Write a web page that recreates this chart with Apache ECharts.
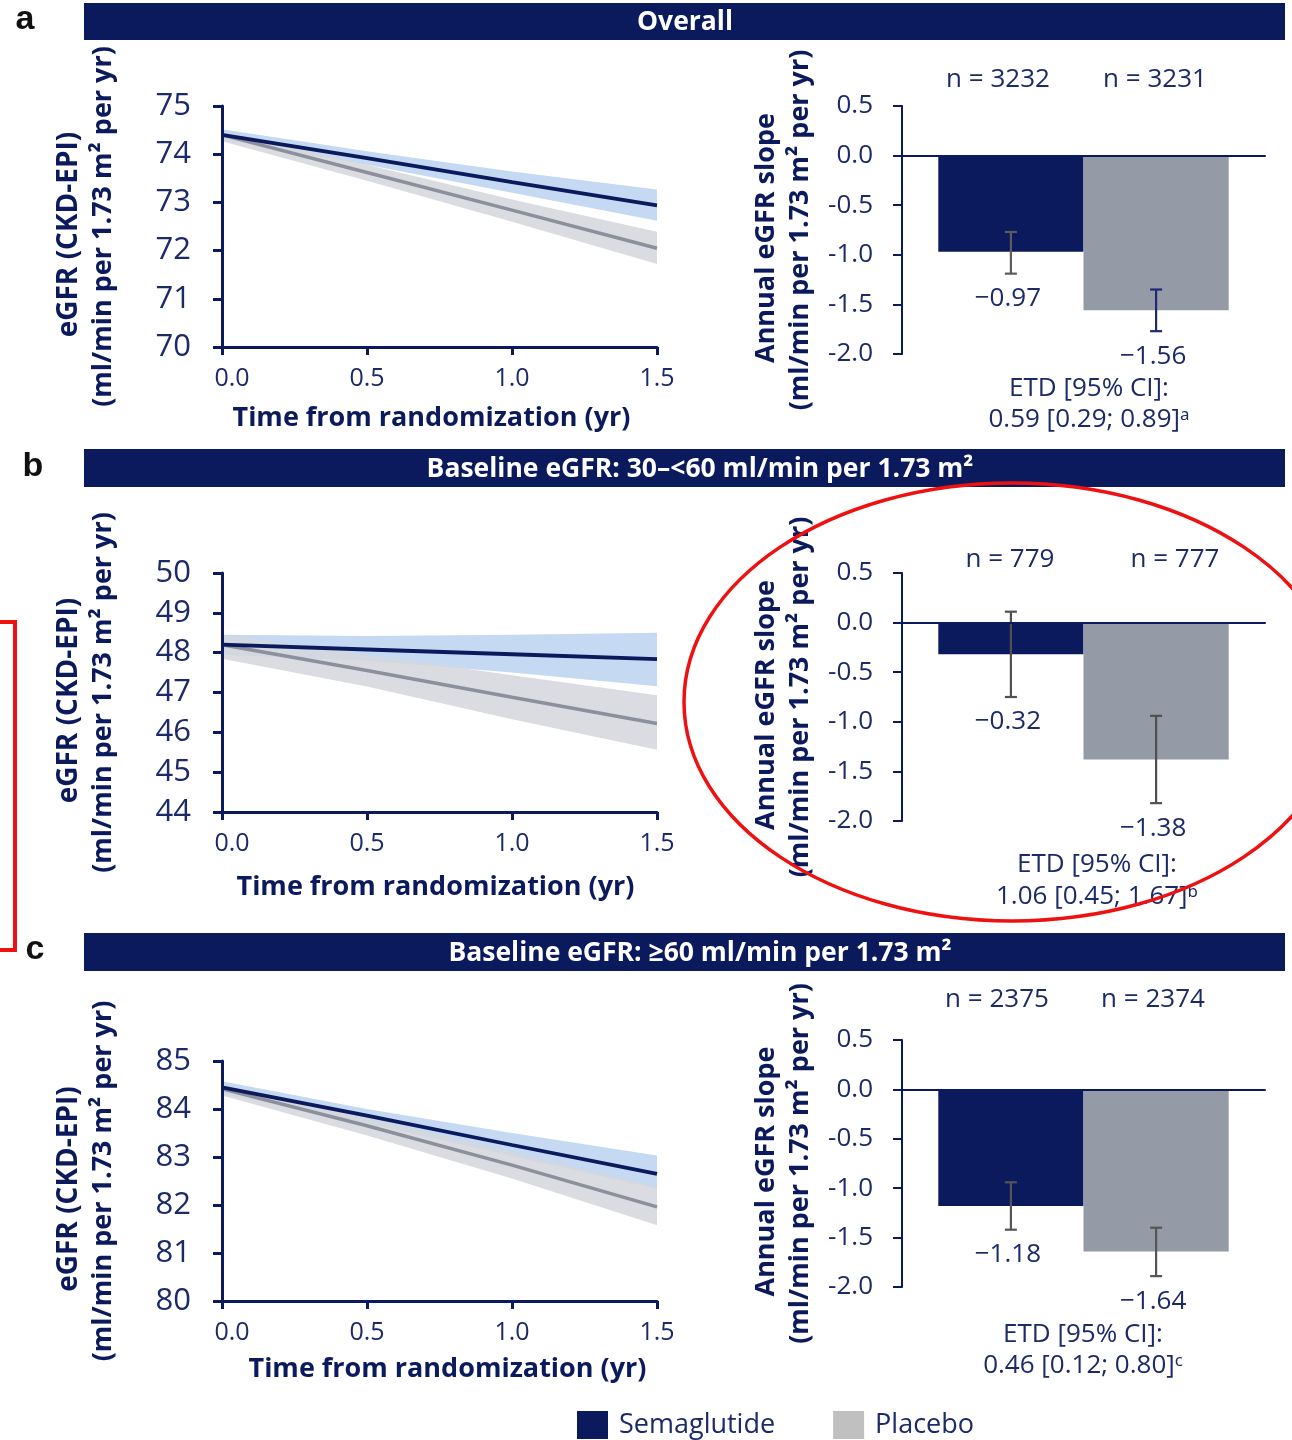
<!DOCTYPE html>
<html>
<head>
<meta charset="utf-8">
<script src="https://cdn.jsdelivr.net/npm/echarts@6/dist/echarts.min.js"></script>
<style>
html,body{margin:0;padding:0;background:#fff;}
#chart{width:1292px;height:1440px;}
</style>
</head>
<body>
<div id="chart"></div>
<script>
// ---------------- DATA ----------------
const panelLetters = ['a', 'b', 'c'];
const panelTitles = ['Overall', 'Baseline eGFR: 30–<60 ml/min per 1.73 m²', 'Baseline eGFR: ≥60 ml/min per 1.73 m²'];
const timePoints = [0, 0.5, 1.0, 1.5];
const xTickLabels = ['0.0', '0.5', '1.0', '1.5'];

// panel a (Overall)
const aSemaMean = [74.40, 73.92, 73.42, 72.94];
const aSemaLow  = [74.30, 73.78, 73.20, 72.62];
const aSemaHigh = [74.52, 74.06, 73.64, 73.27];
const aPlacMean = [74.40, 73.62, 72.84, 72.05];
const aPlacLow  = [74.27, 73.45, 72.60, 71.72];
const aPlacHigh = [74.48, 73.78, 73.06, 72.39];
// panel b (30-<60)
const bSemaMean = [48.20, 48.08, 47.96, 47.84];
const bSemaLow  = [47.95, 47.80, 47.50, 47.16];
const bSemaHigh = [48.45, 48.42, 48.45, 48.50];
const bPlacMean = [48.20, 47.55, 46.88, 46.22];
const bPlacLow  = [47.85, 47.15, 46.33, 45.56];
const bPlacHigh = [48.45, 47.95, 47.43, 46.93];
// panel c (>=60)
const cSemaMean = [84.45, 83.86, 83.25, 82.65];
const cSemaLow  = [84.32, 83.70, 83.02, 82.34];
const cSemaHigh = [84.58, 84.00, 83.50, 83.03];
const cPlacMean = [84.42, 83.65, 82.83, 81.96];
const cPlacLow  = [84.28, 83.45, 82.55, 81.58];
const cPlacHigh = [84.52, 83.82, 83.10, 82.38];

const lineYMin = [70, 44, 80];
const lineYMax = [75, 50, 85];

// annual slope bars: [semaglutide, placebo]
const slopeValues = [[-0.97, -1.56], [-0.32, -1.38], [-1.18, -1.64]];
const slopeLower  = [[-1.19, -1.77], [-0.75, -1.82], [-1.42, -1.89]];
const slopeUpper  = [[-0.77, -1.35], [0.11, -0.94], [-0.94, -1.40]];
const nValues     = [[3232, 3231], [779, 777], [2375, 2374]];
const etdEstimate = ['0.59', '1.06', '0.46'];
const etdLow      = ['0.29', '0.45', '0.12'];
const etdHigh     = ['0.89', '1.67', '0.80'];
const etdNote     = ['ᵃ', 'ᵇ', 'ᶜ'];
const slopeTicks  = [0.5, 0.0, -0.5, -1.0, -1.5, -2.0];
const seriesNames = ['Semaglutide', 'Placebo'];

// ---------------- STYLE / LAYOUT ----------------
const NAVY = '#0b1a5c';
const TXT = '#1d2a68';
const BAR_PLAC = '#959aa7';
const LINE_PLAC = '#8b909c';
const BAND_SEMA = '#c6d9f3';
const BAND_PLAC = '#d3d6dc';
const FONT = '"Open Sans", "Noto Sans", sans-serif';

const layout = [
  {hdrTop: 3,   hdrH: 37, hdrX: 685, lineTop: 106,  lineH: 241, barTop: 106,  barH: 248, nY: 80,   nX: [998, 1155],  etdY: [389, 420],   etdX: 1089, letterX: 25, letterY: 20,  xNameGap: 58, xNameShift: -8, errColors: ['#5c5c5c', '#1d2a6e']},
  {hdrTop: 449, hdrH: 38, hdrX: 700, lineTop: 573,  lineH: 239, barTop: 573,  barH: 248, nY: 560,  nX: [1010, 1175], etdY: [865, 897],   etdX: 1097, letterX: 33, letterY: 467, xNameGap: 62, xNameShift: -4, errColors: ['#505050', '#505050']},
  {hdrTop: 933, hdrH: 38, hdrX: 700, lineTop: 1061, lineH: 240, barTop: 1040, barH: 247, nY: 1000, nX: [997, 1153],  etdY: [1335, 1366], etdX: 1083, letterX: 35, letterY: 950, xNameGap: 55, xNameShift: 8,  errColors: ['#555555', '#555555']}
];
const LINE_LEFT = 222, LINE_W = 435, BAR_LEFT = 902, BAR_W = 363;

const lineSets = [
  [aSemaMean, aSemaLow, aSemaHigh, aPlacMean, aPlacLow, aPlacHigh],
  [bSemaMean, bSemaLow, bSemaHigh, bPlacMean, bPlacLow, bPlacHigh],
  [cSemaMean, cSemaLow, cSemaHigh, cPlacMean, cPlacLow, cPlacHigh]
];

function fmtMinus(v) { return (v < 0 ? '−' : '') + Math.abs(v).toFixed(2); }
function pairs(arr) { return timePoints.map((t, i) => [t, arr[i]]); }

function bandSeries(p, lo, hi, color, opacity, name, z) {
  return {
    type: 'custom', name: name, xAxisIndex: p, yAxisIndex: p, silent: true, z: z, clip: true,
    data: timePoints.map((t, i) => [t, lo[i], hi[i]]),
    encode: {x: 0, y: [1, 2]},
    renderItem: function (params, api) {
      if (params.dataIndex !== 0) return null;
      const up = timePoints.map((t, i) => api.coord([t, hi[i]]));
      const dn = timePoints.map((t, i) => api.coord([t, lo[i]])).reverse();
      return {type: 'polygon', shape: {points: up.concat(dn)}, style: {fill: color, opacity: opacity}};
    }
  };
}

const grid = [], xAxis = [], yAxis = [], series = [], graphic = [];

layout.forEach((L) => {
  grid.push({left: LINE_LEFT, top: L.lineTop, width: LINE_W, height: L.lineH, containLabel: false});
});
layout.forEach((L) => {
  grid.push({left: BAR_LEFT, top: L.barTop, width: BAR_W, height: L.barH, containLabel: false});
});

function yNameStyle(firstSize) {
  return {
    fontFamily: FONT, fontSize: 27, fontWeight: 'bold', color: NAVY, lineHeight: 34, align: 'center',
    rich: {
      l1: {fontFamily: FONT, fontSize: firstSize, fontWeight: 'bold', color: NAVY, lineHeight: 34, padding: [0, 16, 0, 0]},
      l2: {fontFamily: FONT, fontSize: 27, fontWeight: 'bold', color: NAVY, lineHeight: 34}
    }
  };
}

layout.forEach((L, p) => {
  xAxis.push({
    type: 'value', gridIndex: p, min: 0, max: 1.5, interval: 0.5, z: 6,
    name: 'Time from randomization (yr)', nameLocation: 'middle', nameGap: L.xNameGap,
    nameTextStyle: {fontFamily: FONT, fontSize: 27, fontWeight: 'bold', color: NAVY,
      padding: L.xNameShift < 0 ? [0, -2 * L.xNameShift, 0, 0] : [0, 0, 0, 2 * L.xNameShift]},
    axisLine: {show: true, lineStyle: {color: NAVY, width: 3}},
    axisTick: {show: true, length: 8, lineStyle: {color: NAVY, width: 3}},
    axisLabel: {
      fontFamily: FONT, fontSize: 25, color: TXT, margin: 19,
      formatter: v => {
        const i = timePoints.indexOf(v);
        const s = i >= 0 ? xTickLabels[i] : v.toFixed(1);
        return i === 0 ? '{first|' + s + '}' : s;
      },
      rich: {first: {fontFamily: FONT, fontSize: 25, color: TXT, padding: [0, 0, 0, 20]}}
    },
    splitLine: {show: false}
  });
  yAxis.push({
    type: 'value', gridIndex: p, min: lineYMin[p], max: lineYMax[p], interval: 1, z: 6,
    name: '{l1|eGFR (CKD-EPI)}\n{l2|(ml/min per 1.73 m² per yr)}', nameLocation: 'middle', nameGap: 102, nameRotate: 90,
    nameTextStyle: yNameStyle(28),
    axisLine: {show: true, lineStyle: {color: NAVY, width: 3}},
    axisTick: {show: true, length: 9, lineStyle: {color: NAVY, width: 3}},
    axisLabel: {fontFamily: FONT, fontSize: 31, color: TXT, margin: 31},
    splitLine: {show: false}
  });
});
layout.forEach((L, p) => {
  xAxis.push({
    type: 'category', gridIndex: 3 + p, data: ['slope'], z: 6,
    axisLine: {show: true, onZero: true, lineStyle: {color: NAVY, width: 2}},
    axisTick: {show: false}, axisLabel: {show: false}, splitLine: {show: false}
  });
  yAxis.push({
    type: 'value', gridIndex: 3 + p, min: -2, max: 0.5, interval: 0.5, z: 6,
    name: '{l1|Annual eGFR slope}\n{l2|(ml/min per 1.73 m² per yr)}', nameLocation: 'middle', nameGap: 85, nameRotate: 90,
    nameTextStyle: yNameStyle(27),
    axisLine: {show: true, onZero: false, lineStyle: {color: NAVY, width: 2}},
    axisTick: {show: true, length: 9, lineStyle: {color: NAVY, width: 2}},
    axisLabel: {fontFamily: FONT, fontSize: 26, color: TXT, margin: 29, formatter: v => slopeTicks.includes(v) ? v.toFixed(1) : ''},
    splitLine: {show: false}
  });
});

// bar series first (legend picks them)
layout.forEach((L, p) => {
  series.push({
    name: seriesNames[0], type: 'bar', xAxisIndex: 3 + p, yAxisIndex: 3 + p,
    data: [slopeValues[p][0]], barWidth: '40%', barGap: '0%',
    itemStyle: {color: NAVY}, silent: true
  });
  series.push({
    name: seriesNames[1], type: 'bar', xAxisIndex: 3 + p, yAxisIndex: 3 + p,
    data: [slopeValues[p][1]], barWidth: '40%', barGap: '0%',
    itemStyle: {color: BAR_PLAC}, silent: true
  });
  const errData = [0, 1].map(g => [0, slopeLower[p][g], slopeUpper[p][g], slopeValues[p][g], g]);
  series.push({
    type: 'custom', xAxisIndex: 3 + p, yAxisIndex: 3 + p, clip: false, z: 5, silent: true,
    data: errData,
    encode: {x: 0, y: [1, 2]},
    renderItem: function (params, api) {
      const g = api.value(4);
      const band = api.size([1, 0])[0];
      const xc = api.coord([0, 0])[0] + (g === 0 ? -0.2 : 0.2) * band;
      const yLo = api.coord([0, api.value(1)])[1];
      const yHi = api.coord([0, api.value(2)])[1];
      const col = layout[p].errColors[g];
      const cap = 6;
      return {
        type: 'group',
        children: [
          {type: 'line', shape: {x1: xc, y1: yHi, x2: xc, y2: yLo}, style: {stroke: col, lineWidth: 2.2}},
          {type: 'line', shape: {x1: xc - cap, y1: yHi, x2: xc + cap, y2: yHi}, style: {stroke: col, lineWidth: 2.2}},
          {type: 'line', shape: {x1: xc - cap, y1: yLo, x2: xc + cap, y2: yLo}, style: {stroke: col, lineWidth: 2.2}},
          {type: 'text', style: {text: fmtMinus(api.value(3)), x: xc - 3, y: yLo + 25, align: 'center', verticalAlign: 'middle',
            fontSize: 26, fontFamily: FONT, fill: TXT}}
        ]
      };
    }
  });
});

// line chart series: confidence bands + mean lines
layout.forEach((L, p) => {
  const [sm, sl, sh, pm, pl, ph] = lineSets[p];
  series.push(bandSeries(p, sl, sh, BAND_SEMA, 1, seriesNames[0], 1));
  series.push(bandSeries(p, pl, ph, BAND_PLAC, 0.85, seriesNames[1], 1));
  const common = {type: 'line', xAxisIndex: p, yAxisIndex: p, symbol: 'none', silent: true, smooth: false};
  series.push(Object.assign({}, common, {name: seriesNames[1], data: pairs(pm), lineStyle: {color: LINE_PLAC, width: 3.5}, z: 3}));
  series.push(Object.assign({}, common, {name: seriesNames[0], data: pairs(sm), lineStyle: {color: NAVY, width: 3.8}, z: 4}));
});

// headers, letters, n labels, ETD text
layout.forEach((L, p) => {
  graphic.push({type: 'rect', shape: {x: 84, y: L.hdrTop, width: 1201, height: L.hdrH}, style: {fill: NAVY}, silent: true});
  graphic.push({type: 'text', x: L.hdrX, y: L.hdrTop + L.hdrH / 2 + 1, silent: true,
    style: {text: panelTitles[p], fill: '#ffffff', fontFamily: FONT, fontWeight: 'bold', fontSize: 26.5, align: 'center', verticalAlign: 'middle'}});
  graphic.push({type: 'text', x: L.letterX, y: L.letterY, silent: true,
    style: {text: panelLetters[p], fill: '#111111', fontFamily: '"Liberation Sans", Arial, sans-serif', fontWeight: 'bold', fontSize: 34, align: 'center', verticalAlign: 'middle'}});
  [0, 1].forEach(g => {
    graphic.push({type: 'text', x: L.nX[g], y: L.nY, silent: true,
      style: {text: 'n = ' + nValues[p][g], fill: TXT, fontFamily: FONT, fontSize: 26, align: 'center', verticalAlign: 'middle'}});
  });
  graphic.push({type: 'text', x: L.etdX, y: L.etdY[0], silent: true,
    style: {text: 'ETD [95% CI]:', fill: TXT, fontFamily: FONT, fontSize: 26, align: 'center', verticalAlign: 'middle'}});
  graphic.push({type: 'text', x: L.etdX, y: L.etdY[1], silent: true,
    style: {text: etdEstimate[p] + ' [' + etdLow[p] + '; ' + etdHigh[p] + ']' + etdNote[p], fill: TXT, fontFamily: FONT, fontSize: 26, align: 'center', verticalAlign: 'middle'}});
});

// red annotations
graphic.push({type: 'ellipse', shape: {cx: 1012, cy: 702, rx: 328, ry: 219}, style: {fill: 'none', stroke: '#ee1111', lineWidth: 3.5}, silent: true, z: 100});
graphic.push({type: 'polyline', shape: {points: [[0, 622], [15, 622], [15, 950], [0, 950]]}, style: {fill: 'none', stroke: '#ee1111', lineWidth: 4}, silent: true, z: 100});

const option = {
  animation: false,
  backgroundColor: '#ffffff',
  grid, xAxis, yAxis, series, graphic,
  legend: {
    left: 572, top: 1406, icon: 'rect', itemWidth: 31, itemHeight: 28, itemGap: 58,
    textStyle: {fontFamily: FONT, fontSize: 27, color: TXT, padding: [0, 0, 0, 6]},
    data: [
      {name: seriesNames[0], itemStyle: {color: NAVY}},
      {name: seriesNames[1], itemStyle: {color: '#c0c0c0'}}
    ],
    selectedMode: false
  }
};

const chart = echarts.init(document.getElementById('chart'), null, {renderer: 'canvas'});
chart.setOption(option);
</script>
</body>
</html>
